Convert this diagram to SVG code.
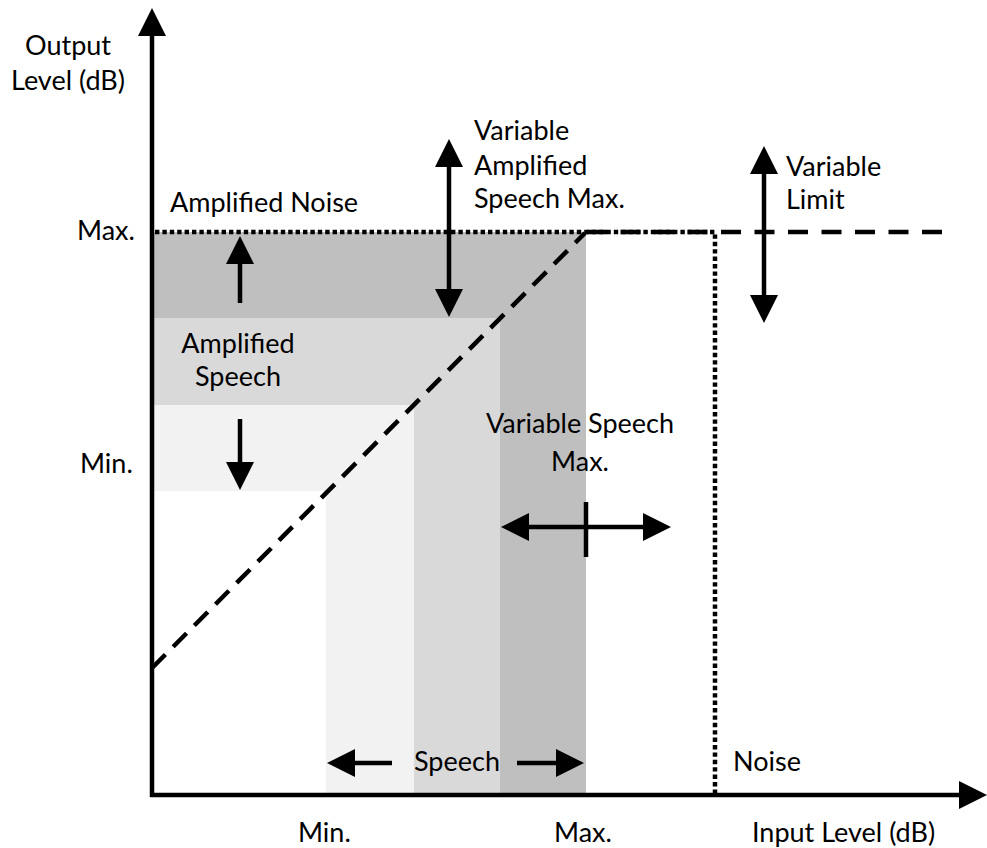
<svg xmlns="http://www.w3.org/2000/svg" width="987" height="848" viewBox="0 0 987 848">
  <style>
    .lbl { font-family: Lato, "Open Sans", sans-serif; font-size: 27px; fill: #000; }
    .mid { text-anchor: middle; }
    .shaft { stroke: #000; stroke-width: 4.5; fill: none; }
    .axis { stroke: #000; stroke-width: 4.5; fill: none; marker-end: url(#head); }
    .one { marker-end: url(#head); }
    .two { marker-start: url(#head); marker-end: url(#head); }
    .dash { stroke: #000; stroke-width: 4.5; fill: none; stroke-dasharray: 20 13.5; }
    .dot { stroke: #000; stroke-width: 4.5; fill: none; stroke-dasharray: 4.4 3; }
  </style>
  <defs>
    <marker id="head" markerUnits="userSpaceOnUse" markerWidth="28" markerHeight="28" viewBox="0 0 28 28" refX="1" refY="14" orient="auto-start-reverse" overflow="visible">
      <path d="M0,0 L28,14 L0,28 z" fill="#000"/>
    </marker>
  </defs>
  <rect width="987" height="848" fill="#fff"/>

  <!-- shaded level bands -->
  <g id="bands">
    <rect x="154" y="232" width="432" height="563" fill="#bfbfbf"/>
    <rect x="154" y="318" width="346" height="477" fill="#d9d9d9"/>
    <rect x="154" y="405" width="260" height="390" fill="#f2f2f2"/>
    <rect x="154" y="491" width="172" height="304" fill="#fff"/>
  </g>

  <!-- transfer curve: noise limit, speech line and output limit -->
  <g id="curves">
    <path class="dot" d="M155,232 H715 V795"/>
    <path class="dash" d="M587,232 H945"/>
    <path class="dash" style="stroke-dasharray: 19 11" d="M152,668 L585,233"/>
  </g>

  <!-- axes -->
  <g id="axes">
    <line class="axis" x1="152" y1="797" x2="152" y2="35"/>
    <line class="axis" x1="150" y1="795" x2="960" y2="795"/>
  </g>

  <!-- direction arrows -->
  <g id="connectors">
    <line class="shaft one" x1="240" y1="303" x2="240" y2="263"/>
    <line class="shaft one" x1="240" y1="419" x2="240" y2="463"/>
    <line class="shaft two" x1="449" y1="166" x2="449" y2="290"/>
    <line class="shaft two" x1="764" y1="173" x2="764" y2="296"/>
    <line class="shaft two" x1="528" y1="527" x2="644" y2="527"/>
    <line class="shaft" x1="586" y1="502" x2="586" y2="557"/>
    <line class="shaft one" x1="392" y1="763" x2="354" y2="763"/>
    <line class="shaft one" x1="517" y1="763" x2="557" y2="763"/>
  </g>

  <g id="y-axis-label">
    <text class="lbl mid" x="68" y="55">Output</text>
    <text class="lbl mid" x="68" y="90">Level (dB)</text>
  </g>
  <g id="x-axis-label">
    <text class="lbl" x="752" y="842">Input Level (dB)</text>
  </g>
  <g id="y-ticks">
    <text class="lbl" x="77" y="240">Max.</text>
    <text class="lbl" x="80" y="473">Min.</text>
  </g>
  <g id="x-ticks">
    <text class="lbl" x="298" y="842">Min.</text>
    <text class="lbl" x="554" y="842">Max.</text>
  </g>
  <g id="amplified-noise">
    <text class="lbl" x="170" y="212">Amplified Noise</text>
  </g>
  <g id="amplified-speech">
    <text class="lbl mid" x="238" y="353">Amplified</text>
    <text class="lbl mid" x="238" y="386">Speech</text>
  </g>
  <g id="variable-amplified-speech-max">
    <text class="lbl" x="474" y="140">Variable</text>
    <text class="lbl" x="474" y="175">Amplified</text>
    <text class="lbl" x="474" y="208">Speech Max.</text>
  </g>
  <g id="variable-limit">
    <text class="lbl" x="786" y="176">Variable</text>
    <text class="lbl" x="786" y="209">Limit</text>
  </g>
  <g id="variable-speech-max">
    <text class="lbl mid" x="580" y="433">Variable Speech</text>
    <text class="lbl mid" x="580" y="471">Max.</text>
  </g>
  <g id="speech">
    <text class="lbl" x="414" y="771">Speech</text>
  </g>
  <g id="noise">
    <text class="lbl" x="733" y="771">Noise</text>
  </g>
</svg>
